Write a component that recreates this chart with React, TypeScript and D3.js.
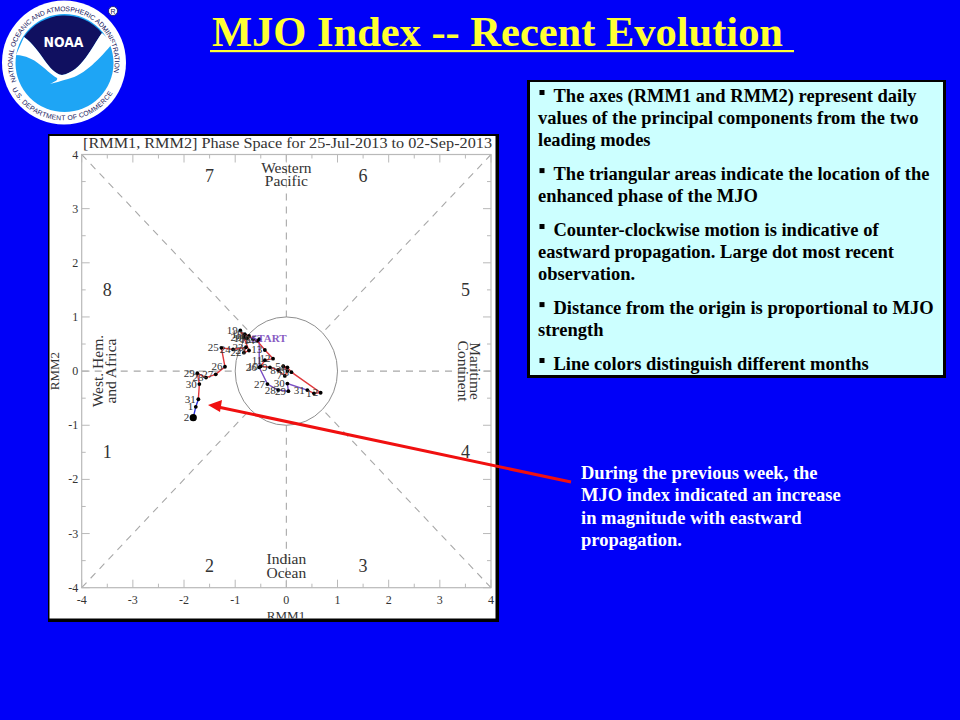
import React from "react";
import * as d3 from "d3";

const titleText = "MJO Index -- Recent Evolution";
const chartTitle = "[RMM1, RMM2] Phase Space for 25-Jul-2013 to 02-Sep-2013";

const julDays = [25, 26, 27, 28, 29, 30, 31];
const julRmm1 = [-0.53, -0.53, -0.37, -0.16, 0.04, 0.02, 0.41];
const julRmm2 = [0.59, 0.07, -0.24, -0.35, -0.37, -0.23, -0.35];

const augDays = [1, 2, 3, 4, 5, 6, 7, 8, 9, 10, 11, 12, 13, 14, 15, 16, 17, 18, 19, 20, 21, 22, 23, 24, 25, 26, 27, 28, 29, 30, 31];
const augRmm1 = [0.54, 0.67, 0.10, 0.02, -0.06, 0.02, -0.03, -0.16, -0.32, -0.50, -0.42, -0.26, -0.42, -0.57, -0.65, -0.73, -0.81, -0.77, -0.90, -0.83, -0.73, -0.83, -0.79, -1.04, -1.27, -1.20, -1.38, -1.57, -1.74, -1.70, -1.72];
const augRmm2 = [-0.41, -0.40, -0.02, 0.07, 0.09, 0.00, -0.09, 0.02, 0.07, 0.09, 0.20, 0.23, 0.39, 0.56, 0.59, 0.65, 0.68, 0.60, 0.75, 0.62, 0.38, 0.34, 0.44, 0.40, 0.43, 0.08, -0.06, -0.12, -0.04, -0.24, -0.52];

const sepDays = [1, 2];
const sepRmm1 = [-1.77, -1.82];
const sepRmm2 = [-0.66, -0.86];

const axisTicks = [-4, -3, -2, -1, 0, 1, 2, 3, 4];
const minorTicks = [-3.5, -2.5, -1.5, -0.5, 0.5, 1.5, 2.5, 3.5];

const phaseLabels = ["1", "2", "3", "4", "5", "6", "7", "8"];
const phaseX = [-3.5, -1.5, 1.5, 3.5, 3.5, 1.5, -1.5, -3.5];
const phaseY = [-1.5, -3.6, -3.6, -1.5, 1.5, 3.6, 3.6, 1.5];

const boxParagraphs = [
  ["The axes (RMM1 and RMM2) represent daily", "values of the principal components from the two", "leading modes"],
  ["The triangular areas indicate the location of the", "enhanced phase of the MJO"],
  ["Counter-clockwise motion is indicative of", "eastward propagation. Large dot most recent", "observation."],
  ["Distance from the origin is proportional to MJO", "strength"],
  ["Line colors distinguish different months"],
];
const noteLines = [
  "During the previous week, the",
  "MJO index indicated an increase",
  "in magnitude with eastward",
  "propagation.",
];

const serif = "'Liberation Serif', 'Times New Roman', serif";
const x = d3.scaleLinear().domain([-4, 4]).range([81.7, 491]);
const y = d3.scaleLinear().domain([-4, 4]).range([587.7, 154.5]);

type Pt = { day: number; a: number; b: number };
const zipSeries = (d: number[], a: number[], b: number[]): Pt[] =>
  d.map((day, i) => ({ day, a: a[i], b: b[i] }));
const jul = zipSeries(julDays, julRmm1, julRmm2);
const aug = zipSeries(augDays, augRmm1, augRmm2);
const sep = zipSeries(sepDays, sepRmm1, sepRmm2);
const line = d3.line<Pt>().x((d) => x(d.a)).y((d) => y(d.b));
const monthRuns = [
  { color: "#7a4fc4", pts: jul },
  { color: "#e0383c", pts: [jul[jul.length - 1], ...aug] },
  { color: "#2a30d8", pts: [aug[aug.length - 1], ...sep] },
];
const allPts = [...jul, ...aug, ...sep];
const last = allPts[allPts.length - 1];

const GREY = "#b9b9b9";
const INK = "#333";

function Logo() {
  const ringFont = "'Liberation Sans', Arial, sans-serif";
  return (
    <g>
      <circle cx={64} cy={62.5} r={62} fill="#fff" />
      <circle cx={64.5} cy={63} r={49} fill="#1ea5f5" />
      <defs>
        <path id="ringTop" d="M 16.5 81.5 A 51 51 0 1 1 112 78.5" />
        <path id="ringBot" d="M 12 89 A 58 58 0 0 0 115 89" />
      </defs>
      <text fontFamily={ringFont} fontSize={6.8} fill="#14145a">
        <textPath href="#ringTop" textLength={190} lengthAdjust="spacing">NATIONAL OCEANIC AND ATMOSPHERIC ADMINISTRATION</textPath>
      </text>
      <text fontFamily={ringFont} fontSize={6.8} fill="#14145a">
        <textPath href="#ringBot" textLength={122} lengthAdjust="spacing">U.S. DEPARTMENT OF COMMERCE</textPath>
      </text>
      <path d="M 24 37 A 49 49 0 0 1 102 33 C 92 46 82 72 62 75 C 48 73 42 50 24 37 Z" fill="#101060" />
      <path d="M 24 37 C 42 50 48 73 62 75 C 82 72 92 46 102 33 L 113 43 C 100 58 85 75 68 79 C 60 81 55 83 50 84 C 56 81 58 80 57 78 C 44 70 36 56 16 55 Z" fill="#fff" />
      <text x={63.5} y={47} textAnchor="middle" fontFamily="'DejaVu Sans', sans-serif" fontWeight={700} fontSize={14} fill="#fff" textLength={40} lengthAdjust="spacingAndGlyphs">NOAA</text>
      <circle cx={113} cy={11} r={4.5} fill="#fff" stroke="#101060" strokeWidth={0.8} />
      <text x={113} y={13.5} textAnchor="middle" fontSize={7} fontFamily={ringFont} fill="#101060">R</text>
    </g>
  );
}

function Chart() {
  const [x0, x1] = x.range();
  const [y0, y1] = y.range();
  const r = Math.SQRT1_2;
  const diag = [
    [-4, -4, -r, -r],
    [-4, 4, -r, r],
    [4, -4, r, -r],
    [4, 4, r, r],
    [-4, 0, -1, 0],
    [4, 0, 1, 0],
    [0, -4, 0, -1],
    [0, 4, 0, 1],
  ];
  return (
    <g>
      <rect x={48} y={134} width={451} height={488} fill="#000" />
      <rect x={49.5} y={136} width={446} height={482.5} fill="#fff" />
      <clipPath id="panel"><rect x={49.5} y={136} width={446} height={482.5} /></clipPath>
      <g clipPath="url(#panel)" fontFamily={serif} fill={INK}>
        <text x={287.5} y={147.5} textAnchor="middle" fontSize={15.5} textLength={409} lengthAdjust="spacingAndGlyphs">{chartTitle}</text>
        {diag.map((d, i) => (
          <line key={i} x1={x(d[0])} y1={y(d[1])} x2={x(d[2])} y2={y(d[3])} stroke="#a8a8a8" strokeWidth={1.1} strokeDasharray="7 6" />
        ))}
        <ellipse cx={x(0)} cy={y(0)} rx={x(1) - x(0)} ry={y(0) - y(1)} fill="none" stroke="#8e8e8e" strokeWidth={1} />
        <rect x={x0} y={y1} width={x1 - x0} height={y0 - y1} fill="none" stroke={GREY} strokeWidth={1.2} />
        {axisTicks.map((t) => (
          <g key={t} stroke={GREY} strokeWidth={1}>
            <line x1={x(t)} x2={x(t)} y1={y0} y2={y0 - 8} />
            <line x1={x(t)} x2={x(t)} y1={y1} y2={y1 + 8} />
            <line y1={y(t)} y2={y(t)} x1={x0} x2={x0 + 8} />
            <line y1={y(t)} y2={y(t)} x1={x1} x2={x1 - 8} />
          </g>
        ))}
        {minorTicks.map((t) => (
          <g key={t} stroke={GREY} strokeWidth={1}>
            <line x1={x(t)} x2={x(t)} y1={y0} y2={y0 - 4} />
            <line x1={x(t)} x2={x(t)} y1={y1} y2={y1 + 4} />
            <line y1={y(t)} y2={y(t)} x1={x0} x2={x0 + 4} />
            <line y1={y(t)} y2={y(t)} x1={x1} x2={x1 - 4} />
          </g>
        ))}
        {axisTicks.map((t) => (
          <text key={`x${t}`} x={x(t)} y={604} textAnchor="middle" fontSize={12}>{t}</text>
        ))}
        {axisTicks.map((t) => (
          <text key={`y${t}`} x={x0 - 3.5} y={y(t) + 4} textAnchor="end" fontSize={12}>{t}</text>
        ))}
        <text x={286} y={620} textAnchor="middle" fontSize={13}>RMM1</text>
        <text transform={`translate(59 ${y(0)}) rotate(-90)`} textAnchor="middle" fontSize={13}>RMM2</text>

        {phaseLabels.map((p, i) => (
          <text key={p} x={x(phaseX[i])} y={y(phaseY[i]) + 6} textAnchor="middle" fontSize={18}>{p}</text>
        ))}
        <g fontSize={15.5} textAnchor="middle">
          <text x={x(0)} y={173}>Western</text>
          <text x={x(0)} y={186}>Pacific</text>
          <text x={x(0)} y={564}>Indian</text>
          <text x={x(0)} y={578}>Ocean</text>
          <text transform={`translate(103 ${y(0)}) rotate(-90)`}>West. Hem.</text>
          <text transform={`translate(115.5 ${y(0)}) rotate(-90)`}>and Africa</text>
          <text transform={`translate(470 ${y(0)}) rotate(90)`}>Maritime</text>
          <text transform={`translate(457.5 ${y(0)}) rotate(90)`}>Continent</text>
        </g>

        {monthRuns.map((m) => (
          <path key={m.color} d={line(m.pts) ?? ""} fill="none" stroke={m.color} strokeWidth={1.4} />
        ))}
        {allPts.map((d, i) => (
          <circle key={i} cx={x(d.a)} cy={y(d.b)} r={d === last ? 3.6 : 1.9} fill="#000" />
        ))}
        {allPts.map((d, i) => (
          <text key={i} x={x(d.a) - (d === last ? 4 : 2.5)} y={y(d.b) + 3.5} textAnchor="end" fontSize={11} fill="#333">{d.day}</text>
        ))}
        <text x={x(jul[0].a) - 8} y={y(jul[0].b) + 3} fontSize={11} fontWeight={700} fill="#7440b8" opacity={0.85}>START</text>
      </g>
    </g>
  );
}

function InfoBox() {
  let yPos = 101.5;
  const rows: React.ReactNode[] = [];
  boxParagraphs.forEach((lines, pi) => {
    lines.forEach((l, li) => {
      const indent = li === 0 ? 15.5 : 0;
      if (li === 0) {
        rows.push(<rect key={`b${pi}`} x={539.5} y={yPos - 11.5} width={5} height={5} fill="#000" />);
      }
      rows.push(
        <text key={`${pi}-${li}`} x={538 + indent} y={yPos} fontSize={18.5} fontWeight={700} fontFamily={serif} fill="#000">{l}</text>,
      );
      yPos += 22.2;
    });
    yPos += 11.5;
  });
  return (
    <g>
      <rect x={527} y={80} width={419} height={298} fill="#000" />
      <rect x={530} y={82} width={413} height={293} fill="#CCFFFF" />
      {rows}
    </g>
  );
}

export default function App() {
  return (
    <svg width={960} height={720} viewBox="0 0 960 720" style={{ position: "absolute", left: 0, top: 0 }}>
      <rect width={960} height={720} fill="#0000F8" />
      <Logo />
      <text x={212} y={46} fontFamily={serif} fontWeight={700} fontSize={42} fill="#FFFF33" textLength={571} lengthAdjust="spacingAndGlyphs">{titleText}</text>
      <rect x={210} y={50} width={584} height={2.2} fill="#FFFF33" />
      <Chart />
      <InfoBox />
      <line x1={571} y1={482} x2={218} y2={407} stroke="#f01010" strokeWidth={3} />
      <path d="M 208 405 L 222 400 L 220 412 Z" fill="#f01010" />
      {noteLines.map((l, i) => (
        <text key={l} x={581} y={478.5 + i * 22.5} fontFamily={serif} fontWeight={700} fontSize={18.5} fill="#fff">{l}</text>
      ))}
    </svg>
  );
}
